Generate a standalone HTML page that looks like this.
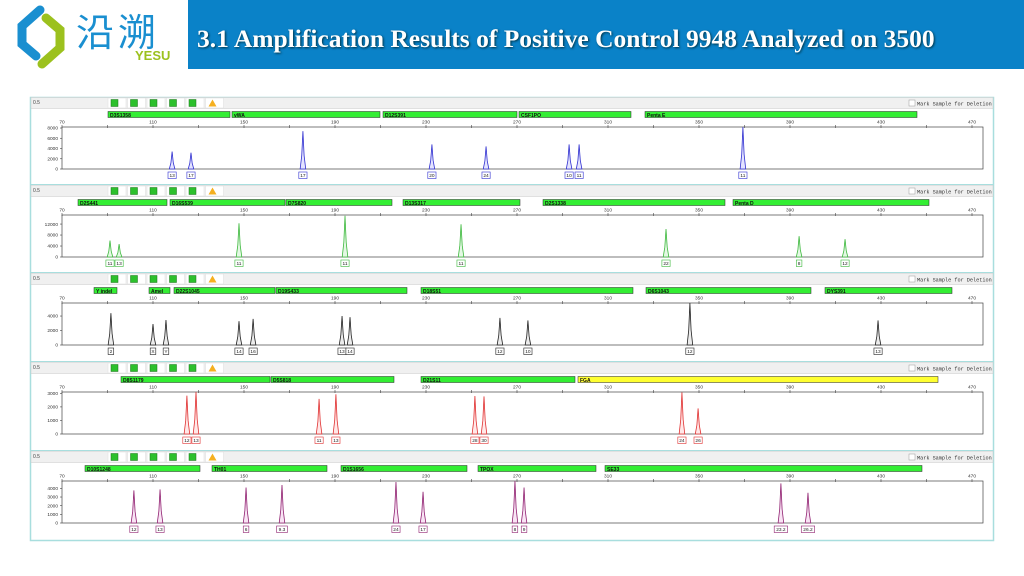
<!DOCTYPE html>
<html><head><meta charset="utf-8">
<style>
body{margin:0;width:1024px;height:576px;background:#fff;overflow:hidden;font-family:"Liberation Sans",sans-serif}
#hdr{position:absolute;left:188px;top:0;width:836px;height:69px;background:#0a82c8}
#title{position:absolute;left:197px;top:24px;color:#fff;font:bold 25.5px "Liberation Serif",serif;text-shadow:1px 1px 2px #034;white-space:nowrap}
#cn{position:absolute;left:76px;top:2px;color:#1a8fd0;font:38px "Noto Sans CJK SC",sans-serif;letter-spacing:4px}
#yesu{position:absolute;left:135px;top:48px;color:#9cc11e;font:bold 13px "Liberation Sans",sans-serif}
svg{position:absolute;left:0;top:0}
</style></head><body>
<div id="hdr"></div>
<div id="title">3.1 Amplification Results of Positive Control 9948 Analyzed on 3500</div>
<svg width="70" height="70" style="left:12px;top:4px">
<path d="M28 6 L10 22 L10 40 L24 52" stroke="#1a8fd0" stroke-width="9" fill="none" stroke-linecap="round"/>
<path d="M30 60 L48 44 L48 26 L34 14" stroke="#9cc11e" stroke-width="9" fill="none" stroke-linecap="round"/>
</svg>
<div id="cn">沿溯</div>
<div id="yesu">YESU</div>
<svg id="chart" width="1024" height="576"></svg>
<script>
const tops=[97,185,273,362,451];
const colors=['#3030d0','#3cb83c','#202020','#e03030','#902070'];
const fills=['#e4e4ff','#e4f8e4','#ececec','#ffe8e8','#f8e4f4'];
const yMax=[8200,15300,5800,3100,4850];
const yTicks=[[0,2000,4000,6000,8000],[0,4000,8000,12000],[0,2000,4000],[0,1000,2000,3000],[0,1000,2000,3000,4000]];
const xTickLabels=[70,110,150,190,230,270,310,350,390,430,470];
const peakBp=[[118.4,126.7,175.9,232.6,256.4,292.9,297.3,369.3],
[91.1,95.1,147.8,194.4,245.4,335.5,394.0,414.2],
[91.5,110.0,115.7,147.8,154.0,193.1,196.6,262.5,274.8,346.0,428.7],
[124.9,128.9,183.0,190.4,251.5,255.5,342.5,349.6],
[101.6,113.1,150.9,166.7,216.8,228.7,269.1,273.1,386.0,397.9]];
const peakH=[[3400,3200,7400,4800,4400,4800,4800,8200],
[6000,4700,12300,15000,11900,10200,7600,6500],
[4400,2900,3450,3300,3600,4000,3850,3750,3400,5850,3400],
[2830,3100,2590,2930,2800,2780,3070,1890],
[3770,3880,4100,4380,4730,3600,4850,4100,4580,3490]];
const alleles=[['13','17','17','20','24','10','11','11'],
['11','13','11','11','11','22','8','12'],
['2','X','Y','14','16','13','14','12','10','12','13'],
['12','13','11','13','28','30','24','26'],
['12','13','6','9.3','24','17','8','9','23.2','26.2']];
const loci=[[['D3S1358',108,230],['vWA',232,380],['D12S391',383,517],['CSF1PO',519,631],['Penta E',645,917]],
[['D2S441',78,167],['D16S539',170,285],['D7S820',286,392],['D13S317',403,520],['D2S1338',543,725],['Penta D',733,929]],
[['Y indel',94,117],['Amel',149,170],['D22S1045',174,275],['D19S433',276,407],['D18S51',421,633],['D6S1043',646,811],['DYS391',825,952]],
[['D8S1179',121,270],['D5S818',271,394],['D21S11',421,575],['FGA',578,938]],
[['D10S1248',85,200],['TH01',212,327],['D1S1656',341,467],['TPOX',478,596],['SE33',605,922]]];
const NS='http://www.w3.org/2000/svg';
const svg=document.getElementById('chart');
function mk(t,a,p){const e=document.createElementNS(NS,t);for(const k in a)e.setAttribute(k,a[k]);(p||svg).appendChild(e);return e;}
const X0=62,PX=91/40;
function xs(v){return X0+(v-70)*PX;}
const frame=mk('rect',{x:30.5,y:97.5,width:963,height:443,fill:'none',stroke:'#a8dede','stroke-width':1.5});

tops.forEach((T,p)=>{
  const g=mk('g',{});
  
  
  mk('rect',{x:31,y:T+0.5,width:962,height:11,fill:'#f0f0f0',stroke:'#d0d0d0','stroke-width':0.6},g);
  const t=mk('text',{x:33,y:T+7,'font-size':5,fill:'#444'},g);t.textContent='0.5';
  for(let i=0;i<6;i++){
    const bx=108+i*19.5;
    mk('rect',{x:bx,y:T+1,width:18,height:10,fill:'#fff',stroke:'#ddd','stroke-width':0.5},g);
    if(i<5){const b=mk('rect',{x:bx+3,y:T+2.5,width:7,height:7,fill:'#2cc02c',stroke:'#187018','stroke-width':0.5},g);
      }
    else{const w=mk('polygon',{points:`${bx+3},${T+9.5} ${bx+7},${T+2.5} ${bx+11},${T+9.5}`,fill:'#f5b020'},g);
      }
  }
  const cb=mk('rect',{x:909,y:T+3,width:6,height:6,fill:'#fff',stroke:'#999','stroke-width':0.5},g);
  
  const ml=mk('text',{x:917,y:T+8.5,'font-size':5.2,fill:'#333','font-family':'Liberation Mono, monospace'},g);ml.textContent='Mark Sample for Deletion';
  loci[p].forEach(L=>{
    const r=mk('rect',{x:L[1],y:T+14.5,width:L[2]-L[1],height:6,fill:L[0]==='FGA'?'#ffff30':'#33ee33',stroke:'#222','stroke-width':0.5},g);
    
    const lt=mk('text',{x:L[1]+2,y:T+19.8,'font-size':5,'font-weight':'bold',fill:'#111'},g);lt.textContent=L[0];
  });
  const top=T+30,base=T+72,H=base-top;
  mk('rect',{x:X0,y:top,width:983-X0,height:H,fill:'none',stroke:'#444','stroke-width':0.7},g);
  for(let v=70;v<=470;v+=20){mk('line',{x1:xs(v),x2:xs(v),y1:top-2,y2:top+1,stroke:'#444','stroke-width':0.6},g);}
  xTickLabels.forEach(v=>{const tl=mk('text',{x:xs(v),y:T+26.5,'font-size':4.8,'text-anchor':'middle',fill:'#333'},g);tl.textContent=v;});
  const ys=v=>base-v/yMax[p]*H;
  yTicks[p].forEach(v=>{mk('line',{x1:X0-2,x2:X0,y1:ys(v),y2:ys(v),stroke:'#444','stroke-width':0.6},g);
    const yl=mk('text',{x:X0-4,y:ys(v)+1.7,'font-size':4.8,'text-anchor':'end',fill:'#333'},g);yl.textContent=v;});
  peakBp[p].forEach((bp,i)=>{
    const x=xs(bp),h=Math.min(peakH[p][i],yMax[p]),y=ys(h);
    const pk=mk('path',{d:`M${x-2.8},${base} L${x-1.2},${base-(base-y)*0.35} L${x},${y} L${x+1.2},${base-(base-y)*0.35} L${x+2.8},${base}Z`,fill:fills[p],stroke:colors[p],'stroke-width':0.8},g);
    
    const lab=alleles[p][i],w=lab.length*2.6+3;
    const bxr=mk('rect',{x:x-w/2,y:base+3,width:w,height:6.5,fill:'#fff',stroke:colors[p],'stroke-width':0.6},g);
    
    const at=mk('text',{x:x,y:base+8,'font-size':4.8,'text-anchor':'middle',fill:'#222'},g);at.textContent=lab;
  });
  if(p<4) mk('line',{x1:31,x2:993,y1:tops[p+1]-0.5,y2:tops[p+1]-0.5,stroke:'#a8dede','stroke-width':1},g);
});
</script>
</body></html>
